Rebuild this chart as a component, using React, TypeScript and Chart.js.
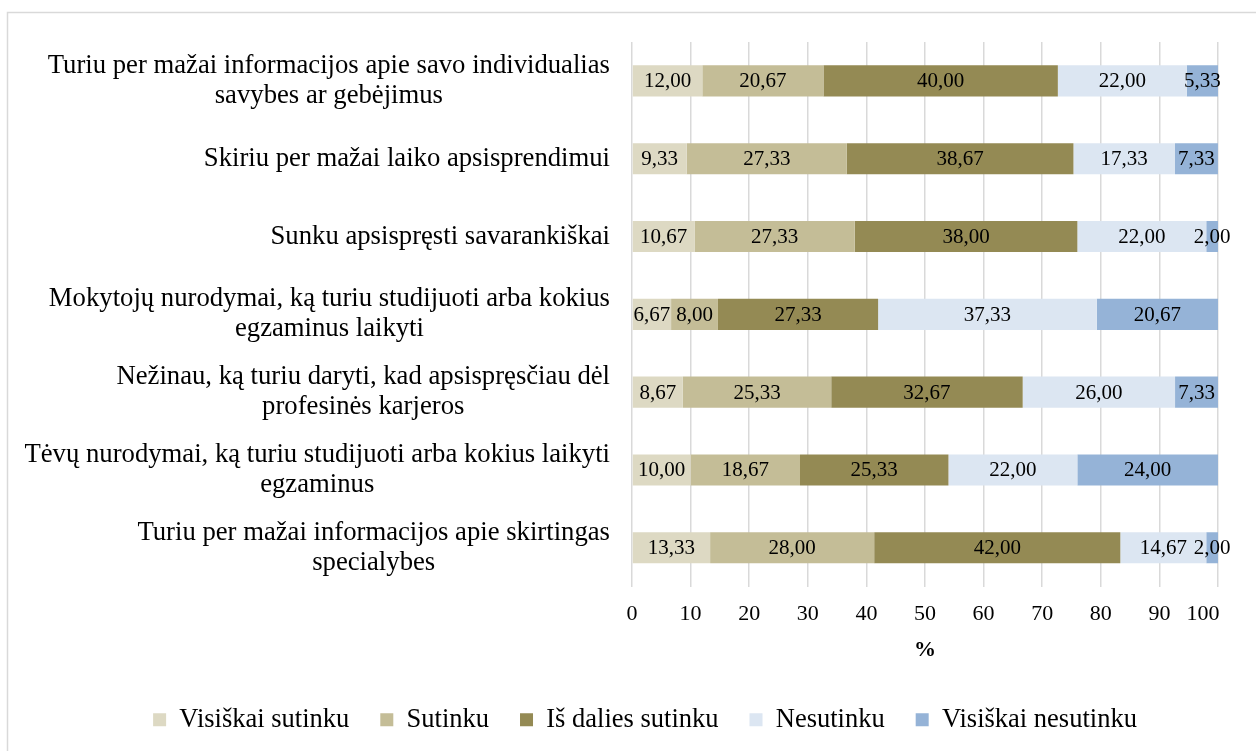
import React, { useEffect, useRef } from "react";
import { Chart, registerables } from "chart.js";

Chart.register(...registerables);

const categories: string[][] = [
  ["Turiu per mažai informacijos apie savo individualias", "savybes ar gebėjimus"],
  ["Skiriu per mažai laiko apsisprendimui"],
  ["Sunku apsispręsti savarankiškai"],
  ["Mokytojų nurodymai, ką turiu studijuoti arba kokius", "egzaminus laikyti"],
  ["Nežinau, ką turiu daryti, kad apsispręsčiau dėl", "profesinės karjeros"],
  ["Tėvų nurodymai, ką turiu studijuoti arba kokius laikyti", "egzaminus"],
  ["Turiu per mažai informacijos apie skirtingas", "specialybes"],
];

const seriesNames = ["Visiškai sutinku", "Sutinku", "Iš dalies sutinku", "Nesutinku", "Visiškai nesutinku"];
const visiskaiSutinku = [12.0, 9.33, 10.67, 6.67, 8.67, 10.0, 13.33];
const sutinku = [20.67, 27.33, 27.33, 8.0, 25.33, 18.67, 28.0];
const isDaliesSutinku = [40.0, 38.67, 38.0, 27.33, 32.67, 25.33, 42.0];
const nesutinku = [22.0, 17.33, 22.0, 37.33, 26.0, 22.0, 14.67];
const visiskaiNesutinku = [5.33, 7.33, 2.0, 20.67, 7.33, 24.0, 2.0];
const seriesColors = ["#DDD9C3", "#C4BD97", "#948A54", "#DCE6F2", "#95B3D7"];
const xTicks = [0, 10, 20, 30, 40, 50, 60, 70, 80, 90, 100];

const FONT = "'Liberation Serif', 'Times New Roman', serif";
const PAD_LEFT = 72;
const TICK_PAD = 14;

const framePlugin = {
  id: "frame",
  beforeDraw(chart: any) {
    const ctx = chart.ctx;
    ctx.save();
    ctx.fillStyle = "#ffffff";
    ctx.fillRect(0, 0, chart.width, chart.height);
    ctx.strokeStyle = "#D9D9D9";
    ctx.lineWidth = 1.5;
    ctx.strokeRect(7.5, 12.5, chart.width + 20, chart.height + 20);
    ctx.restore();
  },
};

const catLabelPlugin = {
  id: "catLabels",
  afterDraw(chart: any) {
    const ctx = chart.ctx;
    const y = chart.scales.y;
    const x = chart.scales.x;
    const right = chart.chartArea.left - 22;
    const lh = 30;
    ctx.save();
    ctx.font = `26.7px ${FONT}`;
    ctx.fillStyle = "#000";
    ctx.textAlign = "center";
    ctx.textBaseline = "middle";
    categories.forEach((lines, i) => {
      const cy = y.getPixelForValue(i);
      const maxW = Math.max(...lines.map((l) => ctx.measureText(l).width));
      const cx = right - maxW / 2;
      const start = cy - ((lines.length - 1) * lh) / 2;
      lines.forEach((l, j) => ctx.fillText(l, cx, start + j * lh));
    });
    // last x tick label, pulled inside like the original
    ctx.font = `22px ${FONT}`;
    const last = xTicks[xTicks.length - 1];
    ctx.fillText(String(last), x.getPixelForValue(last) - 15, chart.chartArea.bottom + TICK_PAD + 13.2);
    ctx.restore();
  },
};

const dataLabelPlugin = {
  id: "dataLabels",
  afterDatasetsDraw(chart: any) {
    const ctx = chart.ctx;
    ctx.save();
    ctx.font = `21px ${FONT}`;
    ctx.fillStyle = "#000";
    ctx.textAlign = "center";
    ctx.textBaseline = "middle";
    chart.data.datasets.forEach((ds: any, di: number) => {
      const meta = chart.getDatasetMeta(di);
      meta.data.forEach((el: any, i: number) => {
        const v = ds.data[i];
        const cx = (el.x + el.base) / 2;
        ctx.fillText(v.toFixed(2).replace(".", ","), cx, el.y + 1);
      });
    });
    ctx.restore();
  },
};

export default function App() {
  const ref = useRef<HTMLCanvasElement | null>(null);
  useEffect(() => {
    document.body.style.margin = "0";
    const values = [visiskaiSutinku, sutinku, isDaliesSutinku, nesutinku, visiskaiNesutinku];
    const chart = new Chart(ref.current as HTMLCanvasElement, {
      type: "bar",
      data: {
        labels: categories.map((c) => c.join(" ")),
        datasets: seriesNames.map((name, i) => ({
          label: name,
          data: values[i],
          backgroundColor: seriesColors[i],
          borderWidth: 0,
          categoryPercentage: 1,
          barPercentage: 0.4,
        })),
      },
      options: {
        indexAxis: "y",
        animation: false,
        responsive: false,
        maintainAspectRatio: false,
        layout: { padding: { top: 42, right: 38, left: PAD_LEFT, bottom: 8 } },
        scales: {
          x: {
            stacked: true,
            min: 0,
            max: 100,
            afterBuildTicks: (s: any) => {
              s.ticks = xTicks.map((v) => ({ value: v }));
            },
            grid: { color: "#D9D9D9", lineWidth: 1.5, drawTicks: false },
            border: { display: false },
            ticks: {
              padding: TICK_PAD,
              color: (c: any) => (c.index === xTicks.length - 1 ? "rgba(0,0,0,0)" : "#000"),
              font: { family: FONT, size: 22 },
            },
            title: {
              display: true,
              text: "%",
              color: "#000",
              font: { family: FONT, size: 22, weight: "bold" },
              padding: { top: -4, bottom: 12 },
            },
          },
          y: {
            stacked: true,
            grid: { display: false },
            border: { display: false },
            ticks: { display: false },
            afterFit: (s: any) => {
              s.width = 632 - PAD_LEFT;
            },
          },
        },
        plugins: {
          legend: {
            position: "bottom",
            labels: {
              boxWidth: 13,
              boxHeight: 13,
              padding: 31,
              color: "#000",
              font: { family: FONT, size: 26.5 },
            },
          },
          tooltip: { enabled: false },
        },
      },
      plugins: [framePlugin, catLabelPlugin, dataLabelPlugin],
    });
    return () => chart.destroy();
  }, []);
  return <canvas ref={ref} width={1256} height={751} style={{ display: "block" }} />;
}
